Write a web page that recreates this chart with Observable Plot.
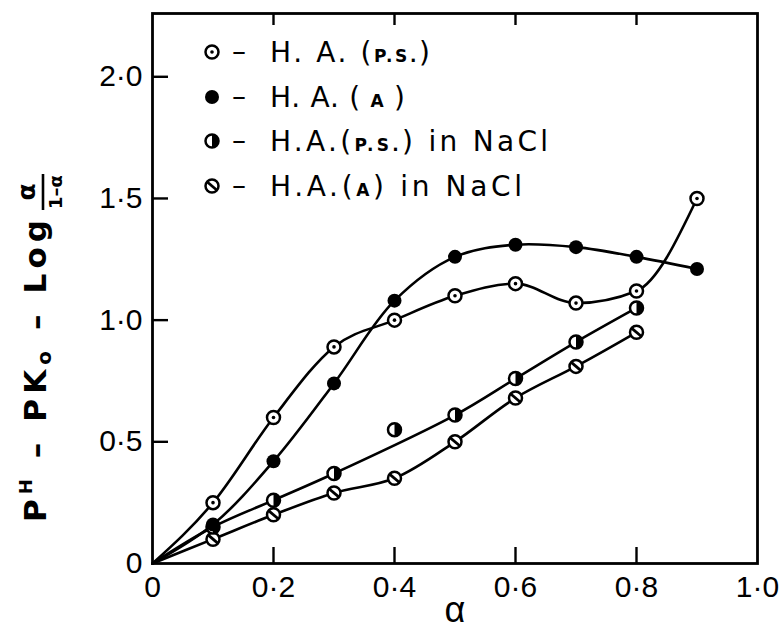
<!DOCTYPE html>
<html><head><meta charset="utf-8">
<script src="https://cdn.jsdelivr.net/npm/d3@7"></script>
<script src="https://cdn.jsdelivr.net/npm/@observablehq/plot@0.6"></script>
<style>body{margin:0;background:#fff}</style>
</head><body><div id="chart"></div>
<script>
// ---- data ----
const alpha = [0.1, 0.2, 0.3, 0.4, 0.5, 0.6, 0.7, 0.8, 0.9];
const haPS = [0.25, 0.60, 0.89, 1.00, 1.10, 1.15, 1.07, 1.12, 1.50];
const haA = [0.16, 0.42, 0.74, 1.08, 1.26, 1.31, 1.30, 1.26, 1.21];
const alphaNaCl = [0.1, 0.2, 0.3, 0.4, 0.5, 0.6, 0.7, 0.8];
const haPSNaCl = [0.15, 0.26, 0.37, 0.55, 0.61, 0.76, 0.91, 1.05];
const haANaCl = [0.10, 0.20, 0.29, 0.35, 0.50, 0.68, 0.81, 0.95];
const psNaClOffCurve = [0.4];
const xTicks = [0, 0.2, 0.4, 0.6, 0.8, 1.0];
const yTicks = [0, 0.5, 1.0, 1.5, 2.0];
const legendMain = ["H. A. (", "H. A. ( ", "H.A.(", "H.A.("];
const legendSmall = ["P.S.", "A", "P.S.", "A"];
const legendEnd = [")", " )", ") in NaCl", ") in NaCl"];

const W = 779, H = 630, mL = 152, mR = 22, mT = 13, mB = 67;
const pw = W - mL - mR, ph = H - mT - mB;
const font = "'Liberation Sans', Arial, sans-serif";
const font2 = "'DejaVu Sans', sans-serif";

const pts = (xs, ys) => xs.map((x, i) => ({x, y: ys[i]}));
const withOrigin = (xs, ys, skip = []) => [{x: 0, y: 0}, ...pts(xs, ys).filter(d => !skip.includes(d.x))];

const halfSym = {draw(ctx, size) {
  const r = Math.sqrt(size / Math.PI);
  ctx.moveTo(0, -r); ctx.arc(0, 0, r, -Math.PI / 2, Math.PI / 2); ctx.closePath();
}};
const slashSym = {draw(ctx, size) {
  const r = Math.sqrt(size / Math.PI) * 0.72;
  ctx.moveTo(-r, -r * 0.85); ctx.lineTo(r, r * 0.85);
}};
const fmt = d => d === 0 ? "0" : d.toFixed(1).replace(".", "·");

const dotStyle = {x: "x", y: "y", r: 6.5, stroke: "black", strokeWidth: 2.5, fill: "white"};

const plot = Plot.plot({
  width: W, height: H,
  marginLeft: mL, marginRight: mR, marginTop: mT, marginBottom: mB,
  style: {fontFamily: font, background: "white", color: "black", overflow: "visible"},
  x: {domain: [0, 1]},
  y: {domain: [0, 2.26]},
  marks: [
    Plot.line(withOrigin(alpha, haPS), {x: "x", y: "y", curve: "monotone-x", strokeWidth: 2.6}),
    Plot.line(withOrigin(alpha, haA), {x: "x", y: "y", curve: "catmull-rom", strokeWidth: 2.6}),
    Plot.line(withOrigin(alphaNaCl, haPSNaCl, psNaClOffCurve), {x: "x", y: "y", curve: "catmull-rom", strokeWidth: 2.6}),
    Plot.line(withOrigin(alphaNaCl, haANaCl), {x: "x", y: "y", curve: "catmull-rom", strokeWidth: 2.6}),
    // H.A.(A) in NaCl : slashed circles
    Plot.dot(pts(alphaNaCl, haANaCl), dotStyle),
    Plot.dot(pts(alphaNaCl, haANaCl), {x: "x", y: "y", r: 6.5, symbol: slashSym, stroke: "black", strokeWidth: 2.8, fill: "none"}),
    // H.A.(P.S.) in NaCl : half filled
    Plot.dot(pts(alphaNaCl, haPSNaCl), dotStyle),
    Plot.dot(pts(alphaNaCl, haPSNaCl), {x: "x", y: "y", r: 6.5, symbol: halfSym, fill: "black"}),
    // H.A.(A) : filled
    Plot.dot(pts(alpha, haA), {x: "x", y: "y", r: 7, fill: "black"}),
    // H.A.(P.S.) : dotted open circles
    Plot.dot(pts(alpha, haPS), dotStyle),
    Plot.dot(pts(alpha, haPS), {x: "x", y: "y", r: 1.8, fill: "black"}),
    Plot.frame({strokeWidth: 2.8}),
    Plot.ruleX(xTicks.slice(1, -1), {insetTop: ph - 16, strokeWidth: 2.4}),
    Plot.ruleX(xTicks.slice(1, -1), {insetBottom: ph - 12, strokeWidth: 2.4}),
    Plot.ruleY(yTicks.slice(1), {insetRight: pw - 16, strokeWidth: 2.4}),
    Plot.axisX({ticks: xTicks, tickSize: 0, tickPadding: 12, tickFormat: fmt, fontSize: 30, label: null}),
    Plot.axisY({ticks: yTicks, tickSize: 0, tickPadding: 10, tickFormat: fmt, fontSize: 30, label: null}),
    Plot.text(["α"], {frameAnchor: "bottom", dy: 58, fontSize: 36, text: d => d})
  ]
});
document.getElementById("chart").appendChild(plot);

const svg = d3.select(plot);
// legend
const lg = svg.append("g").attr("font-family", font2).attr("fill", "black").attr("text-anchor", "start");
const rows = [52, 97, 141, 186];
const rowWidths = [160, 135, 278, 252];
rows.forEach((y, i) => {
  const g = lg.append("g").attr("transform", `translate(212,${y})`);
  if (i === 1) g.append("circle").attr("r", 7).attr("fill", "black");
  else g.append("circle").attr("r", 6.5).attr("fill", "white").attr("stroke", "black").attr("stroke-width", 2.5);
  if (i === 0) g.append("circle").attr("r", 1.8).attr("fill", "black");
  if (i === 2) g.append("path").attr("d", "M0,-6.5A6.5,6.5 0 0 1 0,6.5Z").attr("fill", "black");
  if (i === 3) g.append("line").attr("x1", -4.7).attr("y1", -4).attr("x2", 4.7).attr("y2", 4).attr("stroke", "black").attr("stroke-width", 2.8);
  lg.append("text").attr("x", 232).attr("y", y + 9).attr("font-size", 28).attr("text-anchor", "start").text("–");
  const t = lg.append("text").attr("x", 270).attr("y", y + 10).attr("font-size", 28).attr("text-anchor", "start")
    .attr("textLength", rowWidths[i]).attr("lengthAdjust", "spacing");
  t.append("tspan").text(legendMain[i]);
  t.append("tspan").attr("font-size", 17).attr("font-weight", "bold").text(legendSmall[i]);
  t.append("tspan").text(legendEnd[i]);
});
// y label
const yl = svg.append("g").attr("transform", "translate(46,522) rotate(-90)").attr("font-family", font2).attr("fill", "black");
const yt = yl.append("text").attr("x", 0).attr("y", 0).attr("font-size", 31).attr("font-weight", "bold").attr("text-anchor", "start")
  .attr("textLength", 302).attr("lengthAdjust", "spacing");
yt.append("tspan").text("P");
yt.append("tspan").attr("font-size", 18).attr("dy", -14).text("H");
yt.append("tspan").attr("dy", 14).text(" – PK");
yt.append("tspan").attr("font-size", 20).attr("dy", 5).text("o");
yt.append("tspan").attr("dy", -5).text(" – Log");
const fx = 302 + 28;
yl.append("text").attr("x", fx).attr("y", -11).attr("text-anchor", "middle").attr("font-size", 25).attr("font-weight", "bold").text("α");
yl.append("line").attr("x1", fx - 18).attr("x2", fx + 18).attr("y1", -3).attr("y2", -3).attr("stroke", "black").attr("stroke-width", 2.6);
yl.append("text").attr("x", fx).attr("y", 16).attr("text-anchor", "middle").attr("font-size", 18).attr("font-weight", "bold").text("1–α");
</script>
</body></html>
